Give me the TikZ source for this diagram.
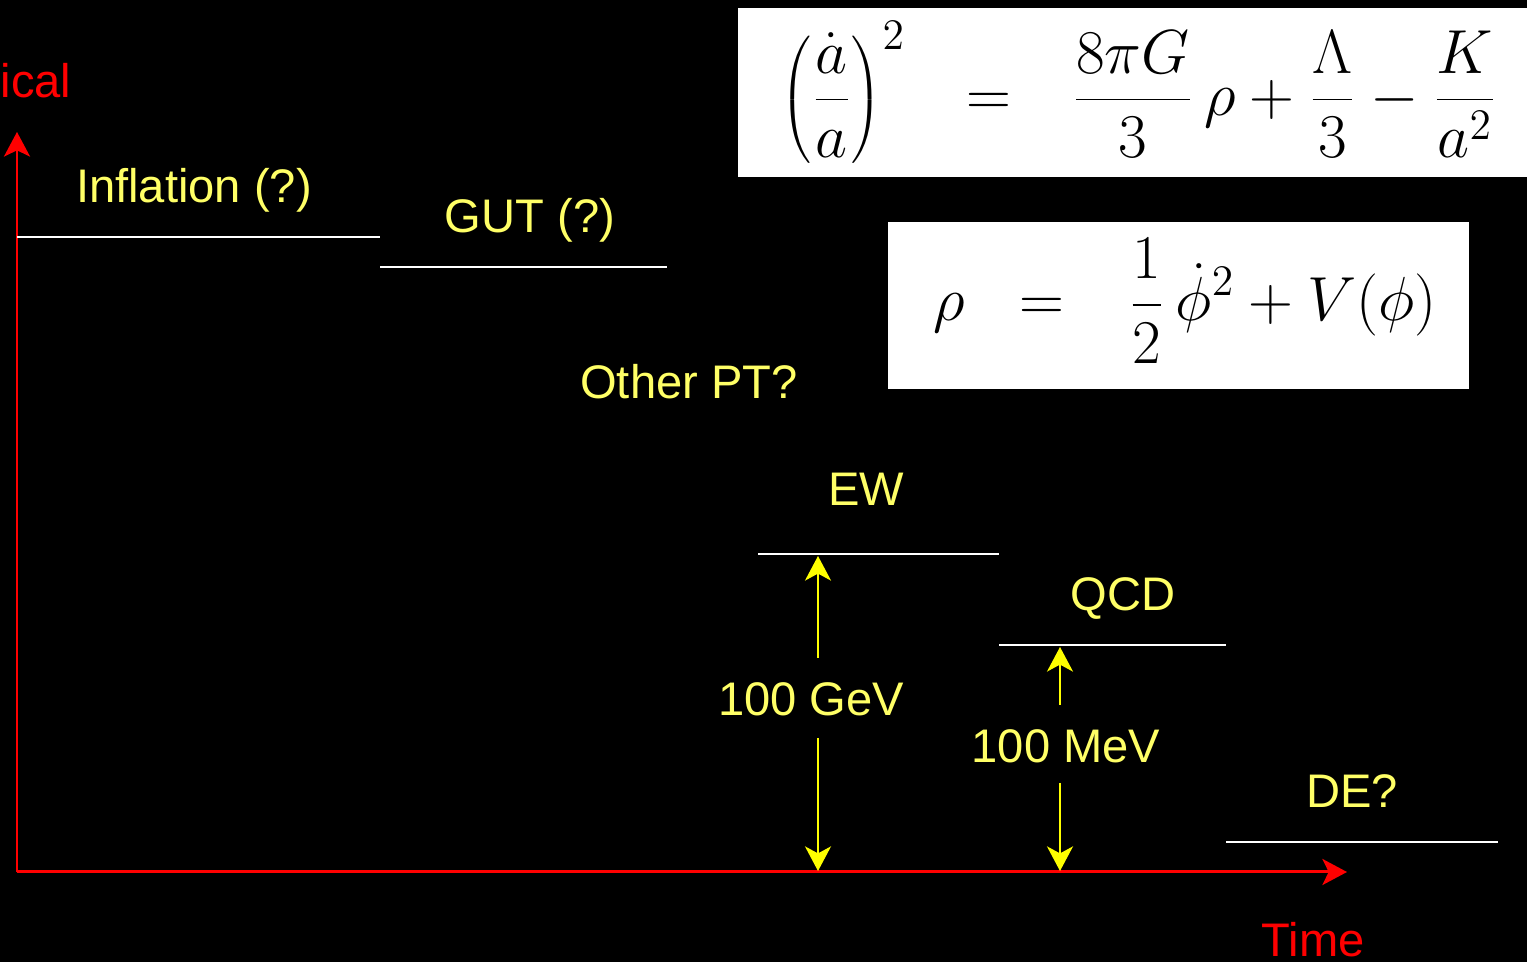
\documentclass[tikz,border=0pt]{standalone}
\usepackage{fix-cm}
\usepackage[no-math]{fontspec}
\setmainfont{Liberation Sans}
\usetikzlibrary{arrows.meta}
\definecolor{lblyellow}{RGB}{255,255,102}
\definecolor{axred}{RGB}{255,0,0}
\definecolor{gapyellow}{RGB}{255,255,0}
\tikzset{
  levelline/.style={draw=white, line width=0.65pt},
  lbl/.style={text=lblyellow, font=\fontsize{13.4}{16}\selectfont, inner sep=0pt, anchor=base},
  axlbl/.style={text=axred, font=\fontsize{13.4}{16}\selectfont, inner sep=0pt, anchor=base},
  axisarrow/.style={draw=axred, line width=0.85pt, -{Stealth[length=7pt,width=7.4pt,inset=1.8pt]}},
  gaparrow/.style={draw=gapyellow, line width=0.6pt, -{Stealth[length=7pt,width=7.4pt,inset=2pt]}},
  eqbox/.style={fill=white, draw=none},
  eqtext/.style={text=black, font=\fontsize{17.7}{21}\selectfont, inner sep=0pt}
}
\begin{document}
\begin{tikzpicture}[x=0.01cm,y=-0.01cm]
\fill[black] (0,0) rectangle (1527,962);
\useasboundingbox (0,0) rectangle (1527,962);
\begin{scope}
\clip (0,0) rectangle (1527,962);

% axes
\coordinate (origin) at (17,872);
\coordinate (ytip) at (17,132);
\coordinate (xtip) at (1347,872);
\draw[axisarrow] (origin) -- (ytip);
\draw[axisarrow] (origin) -- (xtip);
\node[axlbl, anchor=base west] (ylabel) at (0,98) {ical};
\node[axlbl] (xlabel) at (1313,957) {Time};

% level lines
\coordinate (infL) at (17,237);  \coordinate (infR) at (380,237);
\coordinate (gutL) at (380,267); \coordinate (gutR) at (667,267);
\coordinate (ewL) at (758,554);  \coordinate (ewR) at (999,554);
\coordinate (qcdL) at (999,645); \coordinate (qcdR) at (1226,645);
\coordinate (deL) at (1226,842); \coordinate (deR) at (1498,842);
\draw[levelline] (infL) -- (infR);
\draw[levelline] (gutL) -- (gutR);
\draw[levelline] (ewL) -- (ewR);
\draw[levelline] (qcdL) -- (qcdR);
\draw[levelline] (deL) -- (deR);

% labels
\node[lbl] (infl) at (194,203) {Inflation (?)};
\node[lbl] (gut) at (530,233) {GUT (?)};
\node[lbl] (other) at (689,399) {Other PT?};
\node[lbl] (ew) at (866,506) {EW};
\node[lbl] (qcd) at (1123,611) {QCD};
\node[lbl] (de) at (1352,808) {DE?};
\node[lbl] (gev) at (811,716) {100 GeV};
\node[lbl] (mev) at (1066,763) {100 MeV};

% gap arrows
\coordinate (ewtop) at (818,556);
\coordinate (ewup) at (818,658);
\coordinate (ewdn) at (818,738);
\coordinate (ewbot) at (818,871);
\coordinate (qcdtop) at (1060,647);
\coordinate (qcdup) at (1060,705);
\coordinate (qcddn) at (1060,783);
\coordinate (qcdbot) at (1060,871);
\draw[gaparrow] (ewup) -- (ewtop);
\draw[gaparrow] (ewdn) -- (ewbot);
\draw[gaparrow] (qcdup) -- (qcdtop);
\draw[gaparrow] (qcddn) -- (qcdbot);

% equations
\fill[eqbox] (738,8) rectangle (1527,177);
\node[eqtext] (friedmann) at (1139,92) {$\displaystyle \left(\frac{\dot a}{a}\right)^{2} \hspace{0.7em}=\hspace{0.7em} \frac{8\pi G}{3}\,\rho+\frac{\Lambda}{3}-\frac{K}{a^{2}}$};
\fill[eqbox] (888,222) rectangle (1469,389);
\node[eqtext] (rho) at (1185,301) {$\displaystyle \rho \hspace{0.6em}=\hspace{0.75em} \frac{1}{2}\,\dot\phi^{2}+V(\phi)$};
\end{scope}
\end{tikzpicture}
\end{document}
